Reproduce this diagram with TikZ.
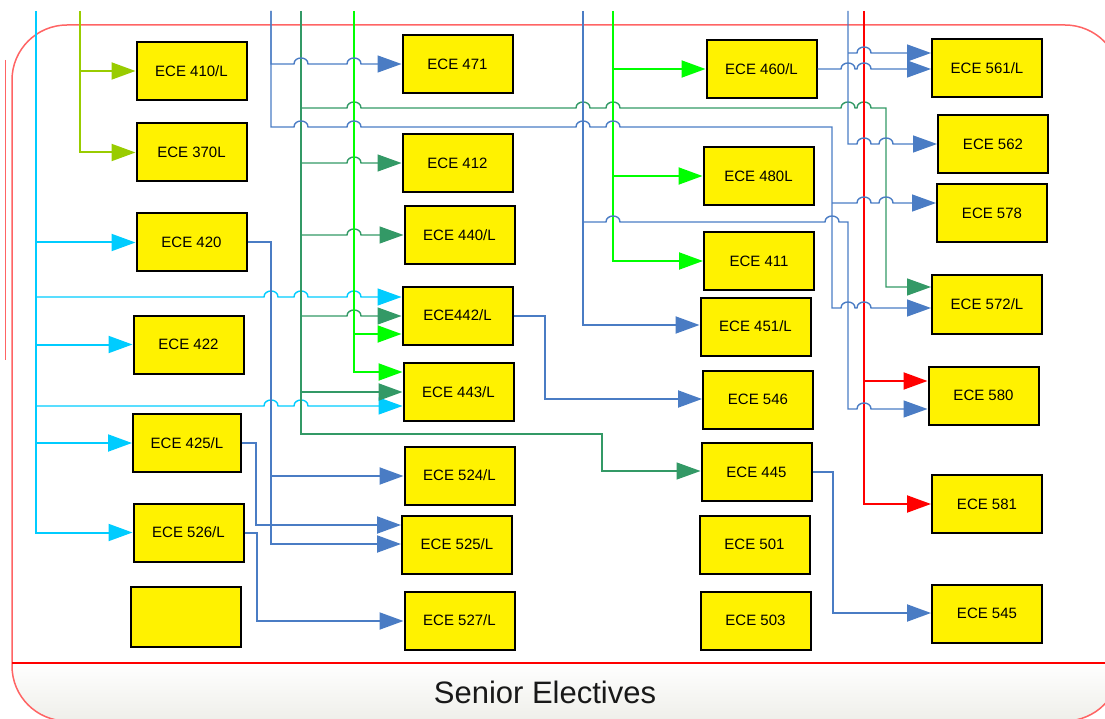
\documentclass[tikz,border=0pt]{standalone}
\usepackage{fontspec}
\setmainfont{Liberation Sans}
\usetikzlibrary{arrows.meta}
\definecolor{cy}{RGB}{0,204,255}
\definecolor{yg}{RGB}{153,204,0}
\definecolor{bl}{RGB}{74,124,196}
\definecolor{sg}{RGB}{51,153,102}
\definecolor{bg}{RGB}{0,255,0}
\definecolor{rd}{RGB}{255,0,0}
\definecolor{fr}{RGB}{255,100,100}
\definecolor{band}{RGB}{236,236,230}
\newcommand{\hop}[2]{-- ({#1-7},#2) .. controls ({#1-7},{#2-8}) and ({#1+7},{#2-8}) .. ({#1+7},#2)}
\tikzset{
  box/.style={draw=black, line width=2pt, fill=yellow, minimum width=110pt, minimum height=58pt,
    inner sep=0pt, font=\fontsize{15}{18}\selectfont, text=black},
  con/.style={-{Triangle[length=24pt,width=17pt]}},
  lwa/.style={line width=1.4pt},
  lwb/.style={line width=2pt},
}
\begin{document}
\begin{tikzpicture}[x=1pt,y=-1pt]
\useasboundingbox (0,0) rectangle (1105,719);
\clip (0,0) rectangle (1105,719);
% frame
\begin{scope}
\clip[rounded corners=55pt] (12,721) rectangle (1120,25);
\shade[top color=white,bottom color=band] (0,663) rectangle (1125,730);
\end{scope}
\draw[fr, line width=1.5pt, rounded corners=55pt] (12,721) rectangle (1120,25);
\draw[rd, line width=1.5pt] (12,663) -- (1120,663);
\draw[fr, line width=1pt] (5,60) -- (5,360);
\node[font=\fontsize{31}{34}\selectfont, text=black!90] (title) at (545,692) {Senior Electives};

% boxes
\node[box] (n410) at (191.5,71) {ECE 410/L};
\node[box] (n370) at (191.5,152.5) {ECE 370L};
\node[box] (n420) at (191.5,242.5) {ECE 420};
\node[box] (n422) at (188.5,344.5) {ECE 422};
\node[box, minimum width=108pt] (n425) at (187,443) {ECE 425/L};
\node[box] (n526) at (188.5,532.5) {ECE 526/L};
\node[box, minimum height=60pt] (nblank) at (186,617) {};
\node[box] (n471) at (457.5,64.5) {ECE 471};
\node[box] (n412) at (457.5,163) {ECE 412};
\node[box] (n440) at (459.5,235.5) {ECE 440/L};
\node[box] (n442) at (457.5,315.5) {ECE442/L};
\node[box] (n443) at (458.5,392) {ECE 443/L};
\node[box] (n524) at (459.5,475.5) {ECE 524/L};
\node[box] (n525) at (457,544.5) {ECE 525/L};
\node[box] (n527) at (459.5,620.5) {ECE 527/L};
\node[box] (n460) at (761.5,69.5) {ECE 460/L};
\node[box] (n480) at (758.5,176.5) {ECE 480L};
\node[box] (n411) at (759,261) {ECE 411};
\node[box] (n451) at (755.5,326.5) {ECE 451/L};
\node[box] (n546) at (758,399.5) {ECE 546};
\node[box] (n445) at (756.5,472) {ECE 445};
\node[box] (n501) at (754.5,544.5) {ECE 501};
\node[box] (n503) at (755.5,620.5) {ECE 503};
\node[box] (n561) at (987,68.5) {ECE 561/L};
\node[box] (n562) at (993,144.5) {ECE 562};
\node[box] (n578) at (992,213.5) {ECE 578};
\node[box] (n572) at (987,304.5) {ECE 572/L};
\node[box] (n580) at (983.5,395.5) {ECE 580};
\node[box] (n581) at (987,504) {ECE 581};
\node[box] (n545) at (987,613.5) {ECE 545};

% bus starts
\coordinate (ygT) at (80,11);
\coordinate (cyT) at (36,11);
\coordinate (blA) at (271,11);
\coordinate (sgT) at (301,11);
\coordinate (bgA) at (354,11);
\coordinate (blB) at (583,11);
\coordinate (bgB) at (613,11);
\coordinate (blC) at (848,11);
\coordinate (rdT) at (864,11);

% yellow-green
\draw[yg,lwb,con] (ygT) |- (n370.west);
\draw[yg,lwb,con] (ygT |- n410.west) -- (n410.west);

% cyan
\draw[cy,lwb,con] (cyT) |- (n526.west);
\draw[cy,lwb,con] (cyT |- n420.west) -- (n420.west);
\draw[cy,lwb,con] (cyT |- n422.west) -- (n422.west);
\draw[cy,lwb,con] (cyT |- n425.west) -- (n425.west);
\draw[cy,lwa,con] (cyT |- 0,297) \hop{271}{297} \hop{301}{297} \hop{354}{297} -- (n442.west |- 0,297);
\draw[cy,lwa,con] (cyT |- 0,406) \hop{271}{406} \hop{301}{406} -- (n443.west |- 0,406);

% sea green
\draw[sg,lwa,con] (sgT) -- (301,434) -- (602,434) -- (602,471) -- (n445.west |- 0,471);
\draw[sg,lwa,con] (sgT |- 0,108) \hop{354}{108} \hop{583}{108} \hop{613}{108} \hop{848}{108} \hop{864}{108} -- (886,108) -- (886,287) -- (n572.west |- 0,287);
\draw[sg,lwa,con] (sgT |- 0,163) \hop{354}{163} -- (n412.west |- 0,163);
\draw[sg,lwa,con] (sgT |- 0,235) \hop{354}{235} -- (n440.west |- 0,235);
\draw[sg,lwa,con] (sgT |- 0,316) \hop{354}{316} -- (n442.west |- 0,316);
\draw[sg,lwb,con] (sgT |- 0,392) -- (n443.west |- 0,392);

% bright green
\draw[bg,lwb,con] (bgA) -- (354,372) -- (n443.west |- 0,372);
\draw[bg,lwb,con] (bgA |- 0,334) -- (n442.west |- 0,334);
\draw[bg,lwb,con] (bgB) -- (613,261) -- (n411.west |- 0,261);
\draw[bg,lwb,con] (bgB |- 0,69) -- (n460.west |- 0,69);
\draw[bg,lwb,con] (bgB |- 0,176) -- (n480.west |- 0,176);

% red
\draw[rd,lwb,con] (rdT) -- (864,504) -- (n581.west |- 0,504);
\draw[rd,lwb,con] (rdT |- 0,381) -- (n580.west |- 0,381);

% blue
\draw[bl,lwa,con] (blA) -- (271,64) \hop{301}{64} \hop{354}{64} -- (n471.west |- 0,64);
\draw[bl,lwa,con] (blA) -- (271,127) \hop{301}{127} \hop{354}{127} \hop{583}{127} \hop{613}{127} -- (832,127) -- (832,308) \hop{848}{308} \hop{864}{308} -- (n572.west |- 0,308);
\draw[bl,lwa,con] (832,203) \hop{864}{203} \hop{886}{203} -- (n578.west |- 0,203);
\draw[bl,lwb,con] (blB) -- (583,325) -- (n451.west |- 0,325);
\draw[bl,lwa,con] (blB |- 0,222) \hop{613}{222} \hop{832}{222} -- (848,222) -- (848,409) \hop{864}{409} -- (n580.west |- 0,409);
\draw[bl,lwa,con] (blC) -- (848,144) \hop{864}{144} \hop{886}{144} -- (n562.west |- 0,144);
\draw[bl,lwa,con] (blC |- 0,53) \hop{864}{53} -- (n561.west |- 0,53);
\draw[bl,lwa,con] (n460.east |- 0,69) \hop{848}{69} \hop{864}{69} -- (n561.west |- 0,69);
\draw[bl,lwb,con] (n420.east) -- (271,242.5) -- (271,544) -- (n525.west |- 0,544);
\draw[bl,lwb,con] (blA |- 0,476) -- (n524.west |- 0,476);
\draw[bl,lwb,con] (n425.east) -- (256,443) -- (256,525) -- (n525.west |- 0,525);
\draw[bl,lwb,con] (n526.east) -- (257,532.5) -- (257,621) -- (n527.west |- 0,621);
\draw[bl,lwb,con] (n442.east) -- (545,315.5) -- (545,399) -- (n546.west |- 0,399);
\draw[bl,lwb,con] (n445.east) -- (833,472) -- (833,613) -- (n545.west |- 0,613);
\end{tikzpicture}
\end{document}
